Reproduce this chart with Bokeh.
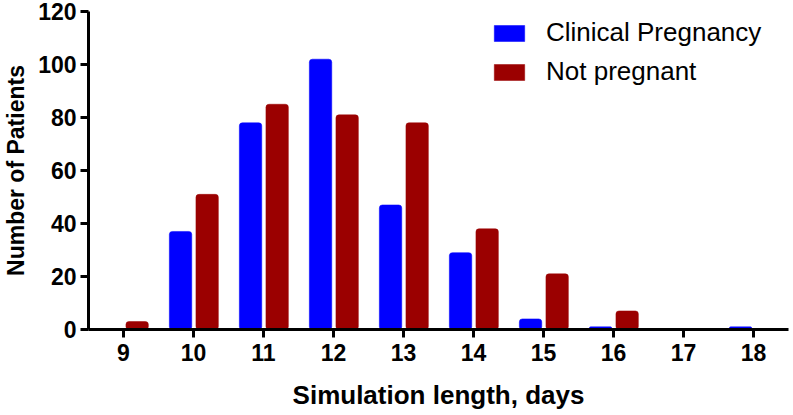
from bokeh.plotting import figure
from bokeh.models import Legend, LegendItem, FixedTicker, Range1d
from bokeh.embed import file_html
from bokeh.resources import INLINE
from bokeh.transform import dodge

days = [9, 10, 11, 12, 13, 14, 15, 16, 17, 18]
clinical_pregnancy = [0, 37, 78, 102, 47, 29, 4, 1, 0, 1]
not_pregnant = [3, 51, 85, 81, 78, 38, 21, 7, 0, 0]
y_ticks = [0, 20, 40, 60, 80, 100, 120]

FONT = "Liberation Sans"
BLUE = "#0000FF"
RED = "#9B0000"

p = figure(width=790, height=412, output_backend="svg", toolbar_location=None,
           x_range=Range1d(8.5, 18.5), y_range=Range1d(0, 120),
           min_border_left=88, min_border_right=2, min_border_top=11, min_border_bottom=81)

src = dict(x=days, cp=clinical_pregnancy, npg=not_pregnant)
r1 = p.vbar(x=dodge("x", -0.185), top="cp", width=0.32, source=src,
            fill_color=BLUE, line_color=BLUE, line_width=0.5, border_radius=3)
r2 = p.vbar(x=dodge("x", 0.195), top="npg", width=0.32, source=src,
            fill_color=RED, line_color=RED, line_width=0.5, border_radius=3)

p.outline_line_color = None
p.grid.visible = False
p.background_fill_color = "white"

for ax in (p.xaxis[0], p.yaxis[0]):
    ax.axis_line_width = 3
    ax.axis_line_color = "black"
    ax.major_tick_line_width = 3
    ax.major_tick_line_color = "black"
    ax.major_tick_out = 8
    ax.major_tick_in = 0
    ax.minor_tick_line_color = None
    ax.major_label_text_font = FONT
    ax.major_label_text_font_style = "bold"
    ax.major_label_text_font_size = "23px"
    ax.major_label_text_color = "black"
    ax.axis_label_text_font = FONT
    ax.axis_label_text_font_style = "bold"
    ax.axis_label_text_color = "black"

p.xaxis.ticker = FixedTicker(ticks=days)
p.yaxis.ticker = FixedTicker(ticks=y_ticks)
p.xaxis.axis_label = "Simulation length, days"
p.yaxis.axis_label = "Number of Patients"
p.xaxis.axis_label_text_font_size = "26px"
p.yaxis.axis_label_text_font_size = "23px"
p.xaxis.major_label_standoff = 6
p.yaxis.major_label_standoff = 4
p.xaxis.axis_label_standoff = 16
p.yaxis.axis_label_standoff = 6

legend = Legend(items=[LegendItem(label="Clinical Pregnancy", renderers=[r1]),
                       LegendItem(label="Not pregnant", renderers=[r2])],
                location=(402, 242))
legend.border_line_color = None
legend.background_fill_alpha = 0
legend.label_text_font = FONT
legend.label_text_font_size = "26px"
legend.label_text_color = "black"
legend.glyph_width = 38
legend.glyph_height = 20
legend.label_height = 20
legend.label_standoff = 18
legend.spacing = 8
legend.padding = 0
legend.margin = 0
p.add_layout(legend)

open("out.html", "w").write(file_html(p, INLINE))
